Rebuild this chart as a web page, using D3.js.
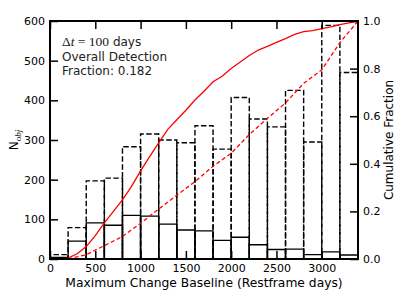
<!DOCTYPE html>
<html>
<head>
<meta charset="utf-8">
<script src="https://cdn.jsdelivr.net/npm/d3@7"></script>
<style>
  body { margin: 0; background: #fff; }
  text { font-family: "DejaVu Sans", sans-serif; }
</style>
</head>
<body>
<div id="my_chart"></div>
<script>
// histogram bins (restframe days), 200 day wide
const binEdges = [0, 200, 400, 600, 800, 1000, 1200, 1400, 1600, 1800, 2000, 2200, 2400, 2600, 2800, 3000, 3200, 3400];
const detected = [4, 45, 91, 85, 110, 108, 88, 73, 71, 47, 55, 36, 24, 25, 11, 18, 10];
const total = [11, 79, 197, 204, 283, 315, 300, 293, 336, 277, 407, 353, 333, 425, 295, 589, 470];

// cumulative fraction curves
const cumDetDays = [130, 200, 300, 400, 500, 600, 700, 800, 900, 1000, 1100, 1200, 1300, 1400, 1500, 1600, 1700, 1800, 1900, 2000, 2100, 2200, 2300, 2400, 2500, 2600, 2700, 2800, 2900, 3000, 3100, 3200, 3300, 3400];
const cumDetFrac = [0.0, 0.004, 0.022, 0.052, 0.098, 0.152, 0.2, 0.248, 0.305, 0.37, 0.43, 0.488, 0.545, 0.585, 0.625, 0.668, 0.705, 0.745, 0.768, 0.8, 0.828, 0.855, 0.878, 0.893, 0.91, 0.926, 0.944, 0.955, 0.96, 0.968, 0.975, 0.985, 0.992, 1.0];
const cumTotDays = [200, 400, 600, 800, 1000, 1200, 1400, 1600, 1800, 2000, 2200, 2400, 2600, 2800, 3000, 3200, 3400];
const cumTotFrac = [0.0, 0.018, 0.056, 0.095, 0.15, 0.21, 0.268, 0.325, 0.39, 0.444, 0.523, 0.591, 0.656, 0.738, 0.795, 0.909, 1.0];

const xTicks = [0, 500, 1000, 1500, 2000, 2500, 3000];
const yTicks = [0, 100, 200, 300, 400, 500, 600];
const fracTicks = [0.0, 0.2, 0.4, 0.6, 0.8, 1.0];

let margin = {top: 21, right: 41, bottom: 40, left: 50},
    width = 399 - margin.left - margin.right,
    height = 299 - margin.top - margin.bottom;

let svg = d3.select("#my_chart")
  .append("svg")
    .attr("width", 399)
    .attr("height", 299)
  .append("g")
    .attr("transform", "translate(" + margin.left + "," + margin.top + ")");

var x = d3.scaleLinear().domain([0, 3400]).range([0, width]);
var y = d3.scaleLinear().domain([0, 600]).range([height, 0]);
var yFrac = d3.scaleLinear().domain([0, 1]).range([height, 0]);

// bars as outlines, path drawn the same way round as a rectangle patch
function barPath(i, v) {
  let x0 = x(binEdges[i]), x1 = x(binEdges[i + 1]), y0 = y(0), y1 = y(v);
  return "M" + x0 + "," + y0 + "L" + x1 + "," + y0 + "L" + x1 + "," + y1 + "L" + x0 + "," + y1 + "Z";
}

svg.selectAll("totalBars")
  .data(total)
  .enter()
  .append("path")
    .attr("d", function(d, i){ return barPath(i, d); })
    .attr("fill", "none")
    .attr("stroke", "#000")
    .style("stroke-width", 1.4)
    .style("stroke-dasharray", "5.5,2.4");

svg.selectAll("detBars")
  .data(detected)
  .enter()
  .append("path")
    .attr("d", function(d, i){ return barPath(i, d); })
    .attr("fill", "none")
    .attr("stroke", "#000")
    .style("stroke-width", 1.4);

var line = d3.line()
  .x(function(d) { return x(d[0]); })
  .y(function(d) { return yFrac(d[1]); });

svg.append("path")
  .datum(cumDetDays.map(function(d, i){ return [d, cumDetFrac[i]]; }))
  .attr("d", line)
  .attr("fill", "none")
  .attr("stroke", "#ff0000")
  .style("stroke-width", 1.3);

svg.append("path")
  .datum(cumTotDays.map(function(d, i){ return [d, cumTotFrac[i]]; }))
  .attr("d", line)
  .attr("fill", "none")
  .attr("stroke", "#ff0000")
  .style("stroke-width", 1.3)
  .style("stroke-dasharray", "4,2.6");

// axes, ticks pointing inwards
function styleAxis(g) {
  g.select(".domain").remove();
  g.selectAll(".tick line").attr("stroke", "#000").style("stroke-width", 1.5);
  g.selectAll(".tick text").style("font-size", "11px").style("font-family", "DejaVu Sans").attr("fill", "#000");
}

svg.append("g")
  .attr("transform", "translate(0," + height + ")")
  .call(d3.axisBottom(x).tickValues(xTicks).tickSize(-8).tickPadding(5).tickFormat(d3.format("d")))
  .call(styleAxis);

svg.append("g")
  .call(d3.axisTop(x).tickValues(xTicks).tickSize(-8).tickFormat(""))
  .call(styleAxis);

svg.append("g")
  .call(d3.axisLeft(y).tickValues(yTicks).tickSize(-8).tickPadding(5).tickFormat(d3.format("d")))
  .call(styleAxis);

svg.append("g")
  .attr("transform", "translate(" + width + ",0)")
  .call(d3.axisRight(yFrac).tickValues(fracTicks).tickSize(-8).tickPadding(5).tickFormat(d3.format(".1f")))
  .call(styleAxis);

// frame
svg.append("rect")
  .attr("x", 0)
  .attr("y", 0)
  .attr("width", width)
  .attr("height", height)
  .attr("fill", "none")
  .attr("stroke", "#000")
  .style("stroke-width", 2);

// labels
svg.append("text")
  .attr("x", width / 2)
  .attr("y", height + 28)
  .attr("text-anchor", "middle")
  .style("font-size", "12.3px")
  .text("Maximum Change Baseline (Restframe days)");

let yl = svg.append("text")
  .attr("transform", "translate(-32," + (height / 2) + ") rotate(-90)")
  .attr("text-anchor", "middle")
  .style("font-size", "12px");
yl.append("tspan").text("N");
yl.append("tspan")
  .attr("dy", 3)
  .style("font-family", "Liberation Serif")
  .style("font-style", "italic")
  .style("font-size", "9px")
  .text("obj");

svg.append("text")
  .attr("transform", "translate(" + (width + 35) + "," + (height / 2) + ") rotate(-90)")
  .attr("text-anchor", "middle")
  .style("font-size", "12px")
  .text("Cumulative Fraction");

// annotation
let note = svg.append("text")
  .attr("x", 12)
  .attr("y", 25)
  .style("font-size", "12px")
  .attr("fill", "#222");
note.append("tspan").style("font-family", "Liberation Serif").style("font-size", "13.5px").text("\u0394");
note.append("tspan").style("font-family", "Liberation Serif").style("font-style", "italic").style("font-size", "13.5px").text("t");
note.append("tspan").style("font-family", "Liberation Serif").style("font-size", "13.5px").text(" = 100");
note.append("tspan").text(" days");

svg.append("text")
  .attr("x", 12)
  .attr("y", 40)
  .style("font-size", "12px")
  .attr("fill", "#222")
  .text("Overall Detection");

svg.append("text")
  .attr("x", 12)
  .attr("y", 54)
  .style("font-size", "12px")
  .attr("fill", "#222")
  .text("Fraction: 0.182");
</script>
</body>
</html>
